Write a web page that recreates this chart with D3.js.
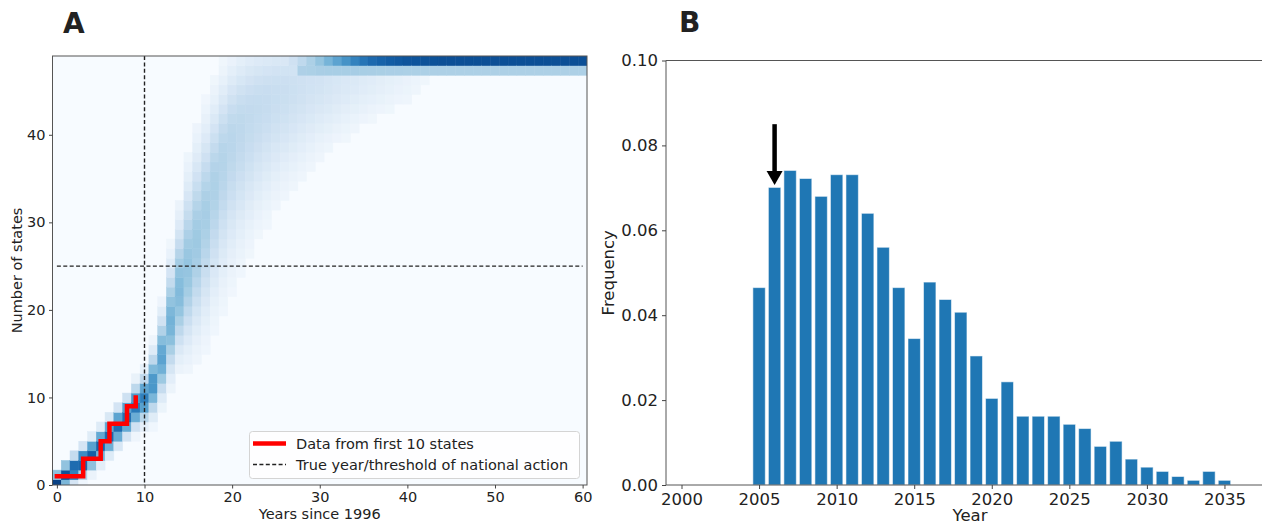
<!DOCTYPE html>
<html>
<head>
<meta charset="utf-8">
<script src="https://cdn.jsdelivr.net/npm/d3@7"></script>
<style>
  html, body { margin: 0; padding: 0; background: #ffffff; }
  svg { display: block; }
  text { font-family: "DejaVu Sans", sans-serif; fill: #222; }
</style>
</head>
<body>
<svg id="chart" width="1262" height="525"></svg>
<script>
// ---------------- DATA ----------------
// Panel A: simulated distribution of number of states per year since 1996
// centre, lower / upper spread and weight of the still-growing part, per year 0..60
const bandCenter = [0.2,1.1,1.8,2.6,3.5,4.5,5.6,6.7,7.8,9.0,
  9.9,11.5,14.5,18.5,22.0,24.8,27.8,31.0,34.3,37.2,
  39.5,41.0,42.2,43.2,44.0,44.7,45.2,45.6,46.0,46.2,
  46.4,46.5,46.6,46.7,46.8,46.9,47.0,47.0,47.0,47.0,
  47.0,47.0,47.0,47.0,47.0,47.0,47.0,47.0,47.0,47.0,
  47.0,47.0,47.0,47.0,47.0,47.0,47.0,47.0,47.0,47.0,47.0];
const spreadLow = [0.35,0.5,0.55,0.6,0.6,0.65,0.7,0.75,0.8,0.9,
  1.0,1.3,1.7,2.3,2.8,3.6,4.2,4.8,5.2,5.5,
  5.6,5.5,5.3,5.0,4.8,4.6,4.4,4.2,4.0,3.7,
  3.4,3.2,3.0,2.8,2.6,2.4,2.3,2.2,2.1,2.0,
  2.0,2.0,2.0,2.0,2.0,2.0,2.0,2.0,2.0,2.0,
  2.0,2.0,2.0,2.0,2.0,2.0,2.0,2.0,2.0,2.0,2.0];
const spreadHigh = [0.35,0.5,0.55,0.6,0.6,0.65,0.7,0.75,0.8,0.9,
  1.0,1.4,1.9,2.6,3.2,4.0,4.2,4.0,3.8,3.6,
  3.4,3.3,3.2,3.0,2.8,2.6,2.4,2.3,2.2,2.1,
  2.0,1.9,1.8,1.7,1.6,1.5,1.5,1.5,1.5,1.5,
  1.5,1.5,1.5,1.5,1.5,1.5,1.5,1.5,1.5,1.5,
  1.5,1.5,1.5,1.5,1.5,1.5,1.5,1.5,1.5,1.5,1.5];
const bandWeight = [1,1,1,1,1,1,1,1,1,1,
  1,1,1,1,1,0.95,0.9,0.8,0.7,0.6,
  0.52,0.45,0.38,0.33,0.29,0.25,0.22,0.19,0.16,0.13,
  0.11,0.09,0.07,0.055,0.045,0.035,0.027,0.02,0.014,0.01,
  0.007,0.004,0.002,0,0,0,0,0,0,0,
  0,0,0,0,0,0,0,0,0,0,0];
// share of simulations saturated in the top band / the band just below it
const topRowMass = [0,0,0,0,0,0,0,0,0,0,
  0,0,0,0,0,0,0,0,0,0,
  0,0,0,0,0,0,0,0.01,0.03,0.06,
  0.1,0.16,0.23,0.31,0.4,0.48,0.55,0.6,0.64,0.67,
  0.7,0.71,0.72,0.73,0.74,0.74,0.74,0.74,0.74,0.74,
  0.74,0.74,0.74,0.74,0.74,0.74,0.74,0.74,0.74,0.74,0.74];
const nextRowMass = [0,0,0,0,0,0,0,0,0,0,
  0,0,0,0,0,0,0,0,0,0,
  0,0,0,0,0,0,0,0,0.05,0.055,
  0.06,0.063,0.066,0.068,0.07,0.07,0.07,0.07,0.07,0.07,
  0.07,0.07,0.07,0.07,0.07,0.07,0.07,0.07,0.07,0.07,
  0.07,0.07,0.07,0.07,0.07,0.07,0.07,0.07,0.07,0.07,0.07];

// Observed data from first 10 states
const firstYears  = [0,1,2,3,4,5,6,7,8,9];
const firstStates = [1,1,1,3,3,5,7,7,9,10];
// true year / threshold of national action
const trueYear = 10;
const trueThreshold = 25;

const xTicksA = [0,10,20,30,40,50,60];
const yTicksA = [0,10,20,30,40];

// Panel B: frequency of predicted year of national action
const barYears = [2005,2006,2007,2008,2009,2010,2011,2012,2013,2014,
  2015,2016,2017,2018,2019,2020,2021,2022,2023,2024,
  2025,2026,2027,2028,2029,2030,2031,2032,2033,2034,2035];
const barFreq = [0.0465,0.0701,0.0741,0.0722,0.068,0.0731,0.0731,0.064,0.056,0.0465,
  0.0345,0.0478,0.0437,0.0407,0.0304,0.0204,0.0243,0.0162,0.0162,0.0162,
  0.0143,0.0133,0.0091,0.0103,0.0061,0.0042,0.0032,0.0020,0.0011,0.0032,0.0011];
const xTicksB = [2000,2005,2010,2015,2020,2025,2030,2035];
const yTicksB = [0,0.02,0.04,0.06,0.08,0.10];
const arrowYear = 2006, arrowFrom = 0.085, arrowTo = 0.0707;

// ---------------- DRAWING ----------------
const svg = d3.select("#chart");

function erf(x){
  const s = x < 0 ? -1 : 1; x = Math.abs(x);
  const t = 1/(1+0.3275911*x);
  const y = 1-(((((1.061405429*t-1.453152027)*t)+1.421413741)*t-0.284496736)*t+0.254829592)*t*Math.exp(-x*x);
  return s*y;
}
const Phi = z => 0.5*(1+erf(z/Math.SQRT2));
// CDF of a split normal (different spread below / above the centre)
function splitCdf(x, c, sL, sH){
  const tot = sL + sH;
  if (x < c) return 2*sL/tot*Phi((x-c)/sL);
  return sL/tot + 2*sH/tot*(Phi((x-c)/sH)-0.5);
}

// ===== Panel A =====
const A = {l:52.5, r:587, t:56, b:485};
const xA = d3.scaleLinear().domain([-0.5,60.5]).range([A.l,A.r]);
const yA = d3.scaleLinear().domain([0,49]).range([A.b,A.t]);
const gA = svg.append("g");

gA.append("defs").append("clipPath").attr("id","clipA")
  .append("rect").attr("x",A.l).attr("y",A.t).attr("width",A.r-A.l).attr("height",A.b-A.t);

const heat = gA.append("g").attr("clip-path","url(#clipA)");
heat.append("rect").attr("x",A.l).attr("y",A.t).attr("width",A.r-A.l).attr("height",A.b-A.t)
  .attr("fill", d3.interpolateBlues(0));

const ROW_START = -0.5, ROW_H = 1.1, NROWS = 45;
const cells = [];
bandCenter.forEach((c,i)=>{
  const sL = spreadLow[i], sH = spreadHigh[i], w = bandWeight[i];
  for(let j=0;j<NROWS;j++){
    const lo = ROW_START + ROW_H*j, hi = lo + ROW_H;
    let p = w>0 ? w*(splitCdf(hi,c,sL,sH)-splitCdf(lo,c,sL,sH)) : 0;
    if(j===NROWS-1) p += topRowMass[i];
    if(j===NROWS-2) p += nextRowMass[i];
    if(p>0.0004) cells.push({i, lo, hi, p});
  }
});
const colorA = p => d3.interpolateBlues(Math.min(1, Math.pow(p,0.42)));
heat.selectAll("rect.cell").data(cells).join("rect").attr("class","cell")
  .attr("x", d=>xA(d.i-0.5))
  .attr("width", d=>xA(d.i+0.5)-xA(d.i-0.5))
  .attr("y", d=>yA(d.hi))
  .attr("height", d=>yA(d.lo)-yA(d.hi))
  .attr("fill", d=>colorA(d.p))
  .attr("stroke", d=>colorA(d.p)).attr("stroke-width",0.5);

// dashed reference lines
heat.append("line")
  .attr("x1",xA(trueYear)).attr("x2",xA(trueYear)).attr("y1",A.t).attr("y2",A.b)
  .attr("stroke","#222").attr("stroke-width",1.4).attr("stroke-dasharray","4,2.4");
heat.append("line")
  .attr("x1",xA(0)).attr("x2",xA(60)).attr("y1",yA(trueThreshold)).attr("y2",yA(trueThreshold))
  .attr("stroke","#222").attr("stroke-width",1.4).attr("stroke-dasharray","4,2.4");

// red step line
const stepLine = d3.line().x(d=>xA(d[0])).y(d=>yA(d[1])).curve(d3.curveStepAfter);
gA.append("path").datum(firstYears.map((y,k)=>[y,firstStates[k]]))
  .attr("d", stepLine).attr("fill","none").attr("stroke","#ff0000")
  .attr("stroke-width",4.5).attr("stroke-linecap","square").attr("stroke-linejoin","miter");

// spines
gA.append("rect").attr("x",A.l).attr("y",A.t).attr("width",A.r-A.l).attr("height",A.b-A.t)
  .attr("fill","none").attr("stroke","#555").attr("stroke-width",1);

// axes
const axAx = gA.append("g").attr("transform",`translate(0,${A.b})`)
  .call(d3.axisBottom(xA).tickValues(xTicksA).tickSize(3.5).tickPadding(3.5).tickSizeOuter(0));
const axAy = gA.append("g").attr("transform",`translate(${A.l},0)`)
  .call(d3.axisLeft(yA).tickValues(yTicksA).tickSize(3.5).tickPadding(3.5).tickSizeOuter(0));
[axAx,axAy].forEach(g=>{
  g.select(".domain").remove();
  g.selectAll(".tick line").attr("stroke","#444");
  g.selectAll(".tick text").attr("font-size","14.5px").attr("font-family","DejaVu Sans").attr("fill","#222");
});

// axis labels
gA.append("text").attr("x",(xA(0)+xA(60))/2).attr("y",519).attr("text-anchor","middle")
  .attr("font-size","14.5px").text("Years since 1996");
gA.append("text").attr("transform",`translate(22,${(A.t+A.b)/2}) rotate(-90)`)
  .attr("text-anchor","middle").attr("font-size","14.5px").text("Number of states");

// legend
const lg = gA.append("g");
lg.append("rect").attr("x",249.5).attr("y",431.5).attr("width",330).attr("height",47).attr("rx",3)
  .attr("fill","#ffffff").attr("fill-opacity",0.8).attr("stroke","#d4d4d4").attr("stroke-width",1);
lg.append("line").attr("x1",253).attr("x2",286).attr("y1",443.5).attr("y2",443.5)
  .attr("stroke","#ff0000").attr("stroke-width",4.5);
lg.append("text").attr("x",296).attr("y",448.5).attr("font-size","14.5px").text("Data from first 10 states");
lg.append("line").attr("x1",253).attr("x2",286).attr("y1",464.5).attr("y2",464.5)
  .attr("stroke","#222").attr("stroke-width",1.4).attr("stroke-dasharray","4,2.4");
lg.append("text").attr("x",296).attr("y",470).attr("font-size","14.5px").text("True year/threshold of national action");

// panel letter
svg.append("text").attr("x",63).attr("y",33).attr("font-family","Liberation Sans, Arial, sans-serif")
  .attr("font-weight","bold").attr("font-size","28px").attr("fill","#000").text("A");

// ===== Panel B =====
const B = {l:666, r:1271, t:60.5, b:485};
const xB = d3.scaleLinear().domain([1999,2038]).range([B.l,B.r]);
const yB = d3.scaleLinear().domain([0,0.1]).range([B.b,B.t]);
const gB = svg.append("g");
const bw = 0.8;
gB.selectAll("rect.bar").data(barYears.map((y,k)=>({y, f:barFreq[k]}))).join("rect").attr("class","bar")
  .attr("x", d=>xB(d.y-bw/2)).attr("width", d=>xB(d.y+bw/2)-xB(d.y-bw/2))
  .attr("y", d=>yB(d.f)).attr("height", d=>yB(0)-yB(d.f))
  .attr("fill","#1f77b4").attr("stroke","#ffffff").attr("stroke-opacity",0.55).attr("stroke-width",1);

// spines: left, top, bottom
gB.append("line").attr("x1",B.l).attr("x2",B.l).attr("y1",B.t).attr("y2",B.b).attr("stroke","#555").attr("stroke-width",1);
gB.append("line").attr("x1",B.l).attr("x2",B.r).attr("y1",B.t).attr("y2",B.t).attr("stroke","#555").attr("stroke-width",1);
gB.append("line").attr("x1",B.l).attr("x2",B.r).attr("y1",B.b).attr("y2",B.b).attr("stroke","#555").attr("stroke-width",1);

const axBx = gB.append("g").attr("transform",`translate(0,${B.b})`)
  .call(d3.axisBottom(xB).tickValues(xTicksB).tickFormat(d3.format("d")).tickSize(4).tickPadding(4).tickSizeOuter(0));
const axBy = gB.append("g").attr("transform",`translate(${B.l},0)`)
  .call(d3.axisLeft(yB).tickValues(yTicksB).tickFormat(d3.format(".2f")).tickSize(4).tickPadding(4).tickSizeOuter(0));
[axBx,axBy].forEach(g=>{
  g.select(".domain").remove();
  g.selectAll(".tick line").attr("stroke","#444");
  g.selectAll(".tick text").attr("font-size","16.5px").attr("font-family","DejaVu Sans").attr("fill","#222");
});

gB.append("text").attr("x",(xB(2000)+xB(2035))/2+17).attr("y",520.5).attr("text-anchor","middle")
  .attr("font-size","16.5px").text("Year");
gB.append("text").attr("transform",`translate(614,${(B.t+B.b)/2}) rotate(-90)`)
  .attr("text-anchor","middle").attr("font-size","16.5px").text("Frequency");

// arrow pointing at the true year bar
const ax = xB(arrowYear), yTip = yB(arrowTo), yTop = yB(arrowFrom);
const headH = 14, headW = 16;
gB.append("line").attr("x1",ax).attr("x2",ax).attr("y1",yTop).attr("y2",yTip-headH+1)
  .attr("stroke","#000").attr("stroke-width",4.5);
gB.append("path").attr("d",`M${ax-headW/2},${yTip-headH} L${ax+headW/2},${yTip-headH} L${ax},${yTip} Z`)
  .attr("fill","#000");

svg.append("text").attr("x",679).attr("y",32).attr("font-family","Liberation Sans, Arial, sans-serif")
  .attr("font-weight","bold").attr("font-size","28px").attr("fill","#000").text("B");
</script>
</body>
</html>
